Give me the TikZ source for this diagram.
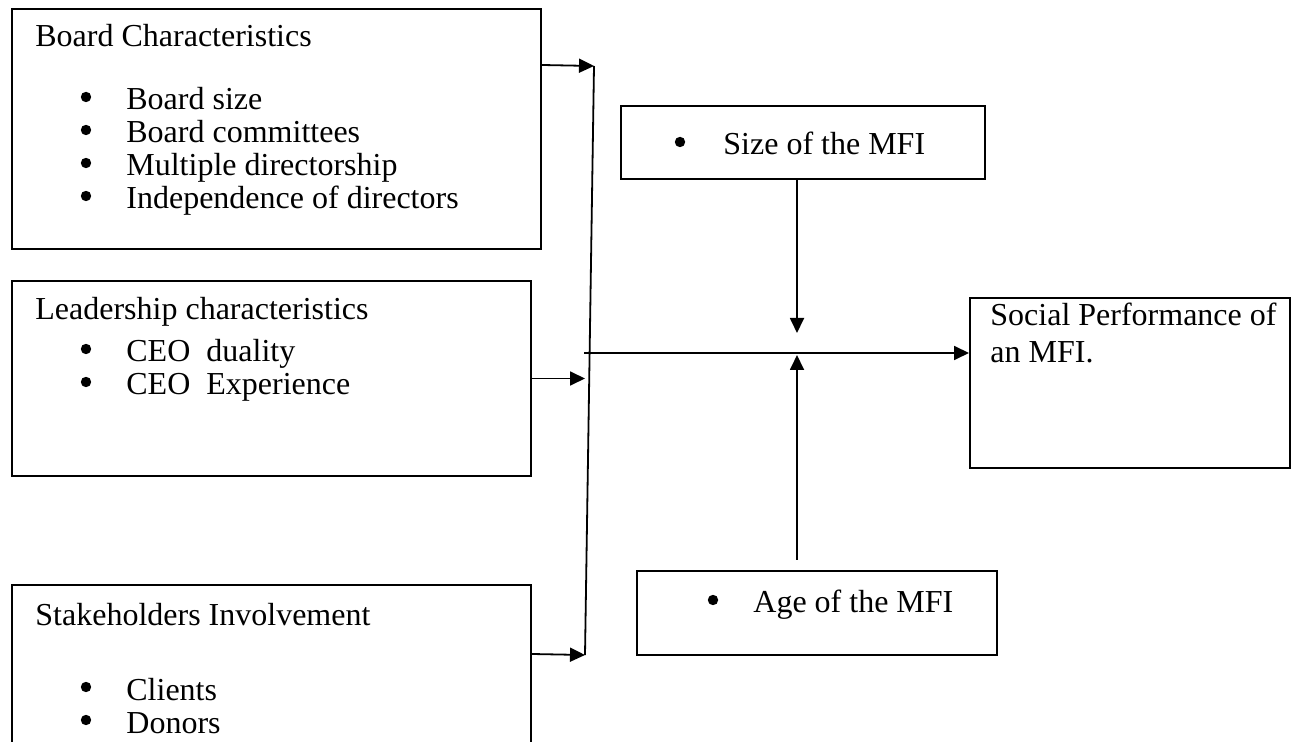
\documentclass[tikz,border=0pt]{standalone}
\usepackage{fontspec}
\setmainfont{Liberation Serif}
\usetikzlibrary{arrows.meta}

\tikzset{
  box/.style={draw, line width=1pt, rectangle, inner sep=0pt},
  txt/.style={inner sep=0pt, anchor=base west, font=\fontsize{16}{19}\selectfont},
  bul/.style={circle, fill, inner sep=0pt, minimum size=5.2pt, yshift=6.5pt},
  arr/.style={line width=0.9pt, -{Triangle[length=7.5pt,width=7pt]}}
}

\begin{document}
\begin{tikzpicture}[x=0.5pt, y=-0.5pt]
    \useasboundingbox (0,0) rectangle (1301,742);
    \clip (0,0) rectangle (1301,742);

    % Boxes of the independent variables
    \node[box, minimum width=264.5pt, minimum height=120pt] (board) at (276.5,129) {};
    \node[box, minimum width=259.5pt, minimum height=97.5pt] (lead) at (271.5,378.5) {};
    \node[box, minimum width=259.5pt, minimum height=107.5pt] (stake) at (271.5,692.5) {};

    % Moderators and outcome
    \node[box, minimum width=182pt, minimum height=36.5pt] (size) at (803,142.5) {};
    \node[box, minimum width=180pt, minimum height=42pt] (age) at (817,613) {};
    \node[box, minimum width=160pt, minimum height=85pt] (social) at (1130,383) {};

    % Board characteristics
    \node[txt] (boardtitle) at (35,47) {Board Characteristics};
    \foreach \t [count=\i] in {Board size, Board committees, Multiple directorship, Independence of directors} {
      \node[bul] (boardbul\i) at (86,77+33*\i) {};
      \node[txt] (boarditem\i) at (126,77+33*\i) {\t};
    }

    % Leadership characteristics
    \node[txt] (leadtitle) at (35,320) {Leadership characteristics};
    \foreach \t [count=\i] in {CEO\ \ duality, CEO\ \ Experience} {
      \node[bul] (leadbul\i) at (86,329+33*\i) {};
      \node[txt] (leaditem\i) at (126,329+33*\i) {\t};
    }

    % Stakeholders involvement
    \node[txt] (staketitle) at (35,625) {Stakeholders Involvement};
    \foreach \t [count=\i] in {Clients, Donors} {
      \node[bul] (stakebul\i) at (86,667+33*\i) {};
      \node[txt] (stakeitem\i) at (126,667+33*\i) {\t};
    }

    % Moderator texts
    \node[bul] (sizebul) at (680,155) {};
    \node[txt] (sizetext) at (723,155) {Size of the MFI};
    \node[bul] (agebul) at (713,613) {};
    \node[txt] (agetext) at (753,613) {Age of the MFI};

    % Outcome text
    \node[txt] (socialtext1) at (990,326) {Social Performance of};
    \node[txt] (socialtext2) at (990,363) {an MFI.};

    % Joining line
    \coordinate (jtop) at (594,66);
    \coordinate (jbot) at (585,655);
    \coordinate (jmid) at (584,353);
    \coordinate (hit) at (797,353);

    \draw[arr] ([yshift=-28.5pt]board.north east) -- (jtop);
    \draw[line width=0.9pt] (jtop) -- (jbot);
    \draw[arr] (lead.east) -- (lead.east -| jbot);
    \draw[arr] ([yshift=-35pt]stake.north east) -- (jbot);

    % Main relation
    \draw[arr] (jmid) -- (social.west |- jmid);

    % Moderating effects
    \draw[arr] (size.south -| hit) -- ([yshift=10pt]hit);
    \draw[arr] ([yshift=5pt]age.north -| hit) -- ([yshift=-1pt]hit);
\end{tikzpicture}
\end{document}
